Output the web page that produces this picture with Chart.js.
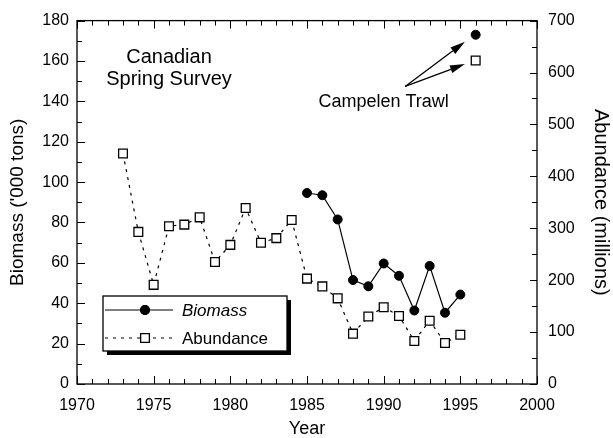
<!DOCTYPE html>
<html>
<head>
<meta charset="utf-8">
<script src="https://cdn.jsdelivr.net/npm/chart.js@4/dist/chart.umd.min.js"></script>
<style>
  html, body { margin: 0; padding: 0; background: #fff; }
  #wrap { width: 613px; height: 438px; }
</style>
</head>
<body>
<div id="wrap"><canvas id="chartSurvey"></canvas></div>
<script>
// Canadian spring survey, abundance (millions) 1973-1995
const years = [1973, 1974, 1975, 1976, 1977, 1978, 1979, 1980, 1981, 1982, 1983, 1984,
               1985, 1986, 1987, 1988, 1989, 1990, 1991, 1992, 1993, 1994, 1995];
const abundance = [444, 293, 191, 304, 307, 321, 235, 268, 339, 272, 281, 316,
                   203, 188, 165, 97, 130, 148, 131, 83, 122, 79, 95];

// biomass ('000 tons) only from 1985
const biomassYears = [1985, 1986, 1987, 1988, 1989, 1990, 1991, 1992, 1993, 1994, 1995];
const biomass = [94.6, 93.5, 81.5, 51.5, 48.4, 59.7, 53.6, 36.4, 58.5, 35.3, 44.3];

// Campelen trawl, 1996
const campelenYears = [1996];
const campelenBiomass = [173];
const campelenAbundance = [623];

const FONT = "'Liberation Sans', Arial, sans-serif";

function pts(xs, ys) {
  return xs.map((x, i) => ({ x: x, y: ys[i] }));
}

// box, inward ticks, annotations and legend
const decorations = {
  id: 'decorations',
  afterDraw(chart) {
    const ctx = chart.ctx;
    const a = chart.chartArea;
    const sx = chart.scales.x, sy = chart.scales.y, sy2 = chart.scales.y2;

    ctx.save();
    ctx.strokeStyle = '#000';
    ctx.lineWidth = 1.3;
    ctx.strokeRect(a.left, a.top, a.right - a.left, a.bottom - a.top);

    ctx.lineWidth = 1;
    ctx.beginPath();
    for (let yr = 1970; yr <= 2000; yr++) {
      const px = Math.round(sx.getPixelForValue(yr)) + 0.5;
      const len = yr % 5 === 0 ? 8 : 5;
      ctx.moveTo(px, a.bottom); ctx.lineTo(px, a.bottom - len);
      ctx.moveTo(px, a.top); ctx.lineTo(px, a.top + len);
    }
    for (let v = 0; v <= 180; v += 10) {
      const py = Math.round(sy.getPixelForValue(v)) + 0.5;
      const len = v % 20 === 0 ? 8 : 5;
      ctx.moveTo(a.left, py); ctx.lineTo(a.left + len, py);
    }
    for (let v = 0; v <= 700; v += 50) {
      const py = Math.round(sy2.getPixelForValue(v)) + 0.5;
      const len = v % 100 === 0 ? 7 : 5;
      ctx.moveTo(a.right, py); ctx.lineTo(a.right - len, py);
    }
    ctx.stroke();

    // survey name
    ctx.fillStyle = '#000';
    ctx.textAlign = 'center';
    ctx.textBaseline = 'middle';
    ctx.font = '20px ' + FONT;
    ctx.fillText('Canadian', sx.getPixelForValue(1976), sy.getPixelForValue(161.5));
    ctx.fillText('Spring Survey', sx.getPixelForValue(1976), sy.getPixelForValue(151));

    // Campelen trawl label + arrows
    ctx.font = '18px ' + FONT;
    ctx.fillText('Campelen Trawl', sx.getPixelForValue(1990), sy.getPixelForValue(139.5));
    const tail = [sx.getPixelForValue(1991.4), sy.getPixelForValue(147.4)];
    const tips = [
      [sx.getPixelForValue(1995.3), sy.getPixelForValue(169.5)],
      [sx.getPixelForValue(1995.3), sy.getPixelForValue(158.5)]
    ];
    tips.forEach(t => {
      const ang = Math.atan2(t[1] - tail[1], t[0] - tail[0]);
      const hl = 15, hw = 4;
      const bx = t[0] - hl * Math.cos(ang), by = t[1] - hl * Math.sin(ang);
      ctx.beginPath();
      ctx.moveTo(tail[0], tail[1]);
      ctx.lineTo(bx, by);
      ctx.lineWidth = 1.3;
      ctx.stroke();
      ctx.beginPath();
      ctx.moveTo(t[0], t[1]);
      ctx.lineTo(bx + hw * Math.sin(ang), by - hw * Math.cos(ang));
      ctx.lineTo(bx - hw * Math.sin(ang), by + hw * Math.cos(ang));
      ctx.closePath();
      ctx.fill();
    });

    // legend box with shadow
    const lx = a.left + 26, ly = 296, lw = 184, lh = 55;
    ctx.fillStyle = '#000';
    ctx.fillRect(lx + 4, ly + 4, lw, lh);
    ctx.fillStyle = '#fff';
    ctx.fillRect(lx, ly, lw, lh);
    ctx.lineWidth = 1.3;
    ctx.strokeRect(lx, ly, lw, lh);

    const ds = chart.data.datasets;
    const rows = [ly + 14, ly + 42];
    [0, 1].forEach((k, i) => {
      const d = ds[k];
      const y = rows[i];
      ctx.strokeStyle = '#000';
      ctx.lineWidth = d.borderWidth;
      ctx.setLineDash(d.borderDash || []);
      ctx.beginPath();
      ctx.moveTo(lx + 2, y);
      ctx.lineTo(lx + 70, y);
      ctx.stroke();
      ctx.setLineDash([]);
      Chart.helpers.drawPoint(ctx, {
        pointStyle: d.pointStyle, radius: d.pointRadius, rotation: 0,
        borderWidth: d.pointBorderWidth
      }, lx + 42, y);
      ctx.fillStyle = d.pointBackgroundColor;
      ctx.lineWidth = d.pointBorderWidth;
      ctx.fill();
      ctx.stroke();
      ctx.fillStyle = '#000';
      ctx.textAlign = 'left';
      ctx.font = (i === 0 ? 'italic ' : '') + '17px ' + FONT;
      ctx.fillText(d.label, lx + 79, y + 1);
    });
    ctx.restore();
  }
};

const ctx = document.getElementById('chartSurvey').getContext('2d');

new Chart(ctx, {
  type: 'scatter',
  data: {
    datasets: [
      {
        label: 'Biomass',
        data: pts(biomassYears, biomass),
        yAxisID: 'y',
        showLine: true,
        borderColor: '#000',
        borderWidth: 1.2,
        pointStyle: 'circle',
        pointRadius: 4.5,
        pointBackgroundColor: '#000',
        pointBorderColor: '#000',
        pointBorderWidth: 1
      },
      {
        label: 'Abundance',
        data: pts(years, abundance),
        yAxisID: 'y2',
        showLine: true,
        borderColor: '#000',
        borderWidth: 1.2,
        borderDash: [3, 5],
        pointStyle: 'rect',
        pointRadius: 6.2,
        pointBackgroundColor: '#fff',
        pointBorderColor: '#000',
        pointBorderWidth: 1.3
      },
      {
        label: 'Campelen biomass',
        data: pts(campelenYears, campelenBiomass),
        yAxisID: 'y',
        showLine: false,
        pointStyle: 'circle',
        pointRadius: 4.5,
        pointBackgroundColor: '#000',
        pointBorderColor: '#000'
      },
      {
        label: 'Campelen abundance',
        data: pts(campelenYears, campelenAbundance),
        yAxisID: 'y2',
        showLine: false,
        pointStyle: 'rect',
        pointRadius: 6.2,
        pointBackgroundColor: '#fff',
        pointBorderColor: '#000',
        pointBorderWidth: 1.3
      }
    ]
  },
  options: {
    responsive: true,
    maintainAspectRatio: false,
    animation: false,
    devicePixelRatio: 1,
    layout: { padding: { top: 18, left: 0, right: 0, bottom: 0 } },
    plugins: {
      legend: { display: false },
      tooltip: { enabled: false }
    },
    scales: {
      x: {
        type: 'linear',
        min: 1970,
        max: 2000,
        grid: { display: false, drawTicks: false },
        border: { display: false },
        ticks: {
          stepSize: 5,
          padding: 12,
          color: '#000',
          font: { family: FONT, size: 16 },
          callback: v => String(v)
        },
        title: {
          display: true,
          text: 'Year',
          color: '#000',
          font: { family: FONT, size: 18, lineHeight: 1 },
          padding: { top: 0, bottom: 0 }
        },
        afterFit: s => { s.height = 54; }
      },
      y: {
        position: 'left',
        min: 0,
        max: 180,
        grid: { display: false, drawTicks: false },
        border: { display: false },
        ticks: {
          stepSize: 20,
          padding: 8,
          color: '#000',
          font: { family: FONT, size: 16 }
        },
        title: {
          display: true,
          text: "Biomass ('000 tons)",
          color: '#000',
          font: { family: FONT, size: 19, lineHeight: 1 },
          padding: { top: 8, bottom: 0 }
        },
        afterFit: s => { s.width = 77; }
      },
      y2: {
        position: 'right',
        min: 0,
        max: 700,
        grid: { display: false, drawTicks: false },
        border: { display: false },
        ticks: {
          stepSize: 100,
          padding: 11,
          color: '#000',
          font: { family: FONT, size: 16 }
        },
        title: {
          display: true,
          text: 'Abundance (millions)',
          color: '#000',
          font: { family: FONT, size: 20, lineHeight: 1 },
          padding: { top: 2, bottom: 0 }
        },
        afterFit: s => { s.width = 76; }
      }
    }
  },
  plugins: [decorations]
});
</script>
</body>
</html>
